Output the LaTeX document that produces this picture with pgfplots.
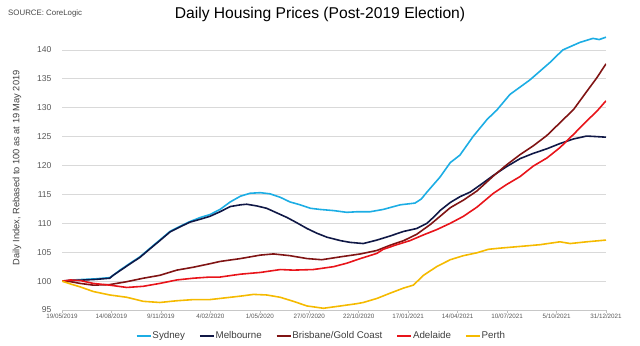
\documentclass[border=0pt]{standalone}
\usepackage{pgfplots}
\pgfplotsset{compat=1.18}
\usepackage{fontspec}
\setmainfont{Liberation Sans}
\definecolor{cSyd}{RGB}{28,173,228}
\definecolor{cMel}{RGB}{16,24,70}
\definecolor{cBri}{RGB}{128,20,20}
\definecolor{cAde}{RGB}{232,20,26}
\definecolor{cPer}{RGB}{245,186,0}
\definecolor{txt}{RGB}{89,89,89}
\definecolor{gridc}{RGB}{217,217,217}
\begin{document}
\begin{tikzpicture}
\useasboundingbox (0,0) rectangle (640bp,346bp);
\node[anchor=center,font=\fontsize{15.7}{18}\selectfont] at (320bp,332bp) {Daily Housing Prices (Post-2019 Election)};
\node[anchor=west,inner sep=0pt,font=\fontsize{7.9}{9}\selectfont,text=txt!80!black] at (8bp,333bp) {SOURCE: CoreLogic};
\node[rotate=90,anchor=center,inner sep=0pt,font=\fontsize{9.3}{11}\selectfont,text=txt!70!black] at (17bp,178bp) {Daily Index, Rebased to 100 as at 19 May 2019};
\begin{axis}[
  at={(62bp,36bp)}, anchor=south west,
  scale only axis, width=544bp, height=277.4bp,
  xmin=0, xmax=957, ymin=95, ymax=143,
  axis x line*=bottom, axis y line*=left,
  x axis line style={draw=gridc!80!gray, line width=0.8pt, -},
  y axis line style={draw=none},
  ymajorgrids, grid style={draw=gridc, line width=0.7pt},
  ytick={95,100,...,140},
  xtick={0,87,...,957},
  xticklabels={19/05/2019,14/08/2019,9/11/2019,4/02/2020,1/05/2020,27/07/2020,22/10/2020,17/01/2021,14/04/2021,10/07/2021,5/10/2021,31/12/2021},
  tick align=outside, major tick length=3bp,
  xtick style={draw=gridc!70!gray, line width=0.6pt},
  ytick style={draw=none},
  /pgf/number format/assume math mode=true,
  yticklabel style={font=\fontsize{8.6}{10}\selectfont, text=txt, xshift=-4bp},
  xticklabel style={font=\fontsize{6.3}{7}\selectfont, text=txt, inner sep=1bp},
  legend columns=5,
  legend style={at={(0.476,-0.094)}, anchor=center, draw=none, fill=none,
    font=\fontsize{9.8}{11}\selectfont, text=txt!70!black,
    nodes={inner sep=1bp},
    /tikz/every even column/.append style={column sep=13bp}},
  legend image code/.code={\draw[#1] (0bp,0bp) -- (14bp,0bp);},
  every axis plot/.append style={line width=1.6pt, line join=round},
]
\addplot[cSyd] coordinates {
(0,100.0)(20,100.2)(40,100.3)(60,100.4)(84,100.6)(90,101.0)(102,101.9)(120,103.1)(137,104.2)(155,105.7)(172,107.1)(190,108.6)(208,109.5)(225,110.3)(243,111.0)(260,111.5)(278,112.4)(296,113.7)(314,114.7)(331,115.2)(349,115.3)(366,115.1)(384,114.5)(401,113.7)(419,113.2)(437,112.6)(454,112.4)(478,112.2)(501,111.9)(519,112.0)(542,112.0)(565,112.4)(595,113.2)(621,113.5)(632,114.2)(642,115.4)(665,118.0)(683,120.5)(700,121.8)(723,125.0)(748,128.0)(765,129.6)(788,132.3)(823,134.8)(858,137.8)(881,140.0)(911,141.3)(934,142.0)(945,141.8)(957,142.2)
};
\addlegendentry{Sydney}
\addplot[cMel] coordinates {
(0,100.0)(20,100.1)(40,100.2)(60,100.3)(84,100.5)(90,101.0)(102,101.8)(120,103.0)(137,104.1)(155,105.6)(172,107.0)(190,108.5)(208,109.4)(225,110.2)(243,110.7)(260,111.2)(278,112.0)(296,112.9)(314,113.2)(325,113.3)(343,113.0)(360,112.6)(378,111.8)(396,111.0)(413,110.1)(431,109.1)(448,108.3)(466,107.6)(490,107.0)(507,106.7)(530,106.5)(554,107.1)(577,107.8)(601,108.6)(624,109.1)(642,110.0)(653,111.0)(665,112.2)(683,113.6)(700,114.6)(718,115.4)(741,117.0)(759,118.3)(782,119.8)(806,121.2)(829,122.1)(853,122.9)(876,123.8)(900,124.6)(923,125.1)(941,125.0)(957,124.9)
};
\addlegendentry{Melbourne}
\addplot[cBri] coordinates {
(0,100.0)(15,99.9)(32,99.6)(55,99.3)(84,99.4)(114,99.9)(143,100.5)(172,101.0)(202,101.9)(231,102.4)(260,103.0)(278,103.4)(314,103.9)(349,104.5)(372,104.7)(401,104.4)(431,103.9)(457,103.7)(490,104.2)(525,104.7)(554,105.3)(577,106.2)(601,107.0)(624,108.1)(648,109.8)(665,111.2)(683,112.7)(706,114.0)(730,115.6)(759,118.2)(782,120.1)(806,121.9)(829,123.4)(853,125.2)(876,127.4)(900,129.7)(923,132.8)(941,135.2)(957,137.6)
};
\addlegendentry{Brisbane/Gold Coast}
\addplot[cAde] coordinates {
(0,100.0)(15,100.2)(32,100.1)(55,99.6)(84,99.3)(114,98.9)(143,99.1)(172,99.6)(202,100.2)(231,100.5)(260,100.7)(278,100.7)(314,101.2)(349,101.5)(384,102.0)(407,101.9)(442,102.0)(478,102.5)(501,103.1)(525,103.9)(554,104.8)(565,105.5)(589,106.3)(612,107.0)(636,108.0)(659,108.9)(683,110.0)(706,111.2)(730,112.8)(759,115.2)(782,116.7)(806,118.1)(829,119.9)(853,121.3)(876,123.1)(900,125.4)(923,127.7)(941,129.4)(957,131.2)
};
\addlegendentry{Adelaide}
\addplot[cPer] coordinates {
(0,100.0)(15,99.5)(32,99.0)(55,98.2)(84,97.6)(114,97.2)(143,96.5)(172,96.3)(202,96.6)(231,96.8)(260,96.8)(278,97.0)(314,97.4)(337,97.7)(360,97.6)(384,97.2)(407,96.5)(431,95.7)(460,95.3)(490,95.7)(519,96.1)(530,96.3)(554,97.0)(577,97.9)(601,98.8)(618,99.3)(636,101.0)(659,102.5)(683,103.7)(706,104.4)(730,104.9)(750,105.5)(770,105.7)(806,106.0)(841,106.3)(876,106.8)(894,106.5)(923,106.8)(957,107.1)
};
\addlegendentry{Perth}
\end{axis}
\end{tikzpicture}
\end{document}
